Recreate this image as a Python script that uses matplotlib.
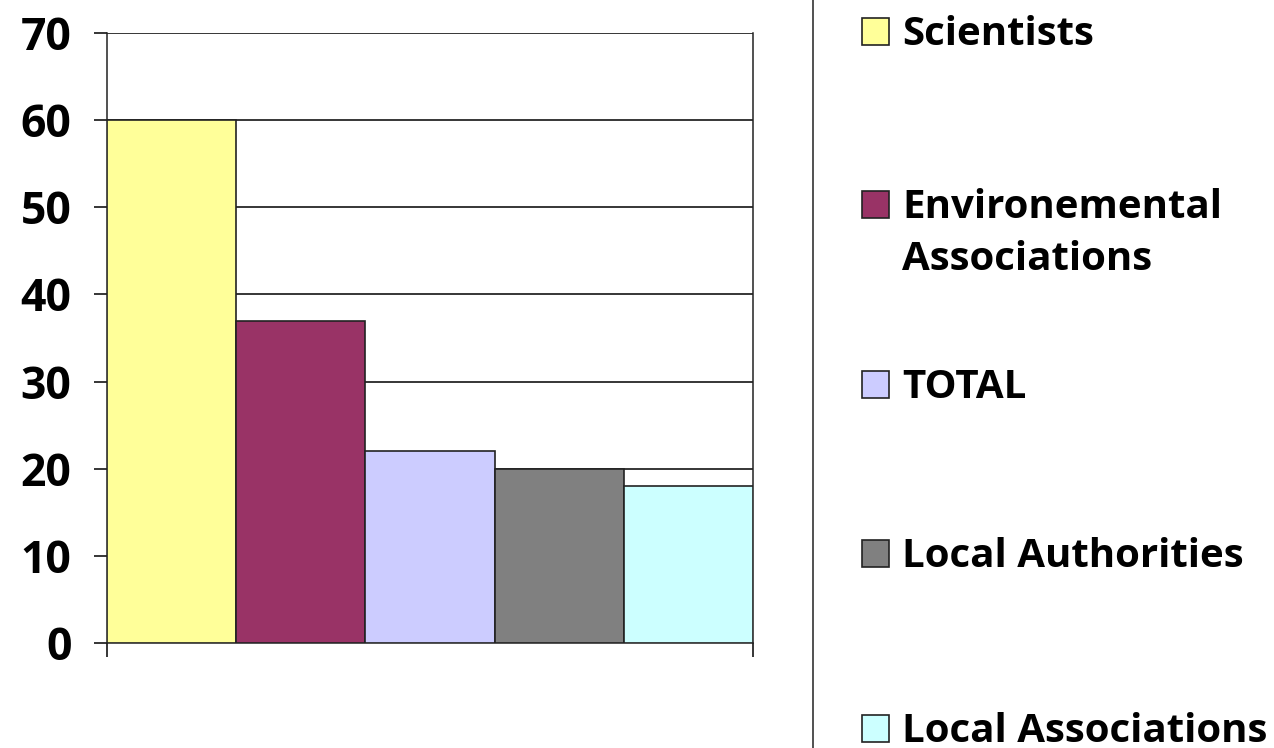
import matplotlib
matplotlib.use('agg')
import matplotlib.pyplot as plt
from matplotlib.patches import Rectangle
from matplotlib.lines import Line2D

categories = ['Scientists', 'Environemental\nAssociations', 'TOTAL',
              'Local Authorities', 'Local Associations']
values = [60, 37, 22, 20, 18]
colors = ['#FFFF99', '#993366', '#CCCCFF', '#808080', '#CCFFFF']
yticks = [0, 10, 20, 30, 40, 50, 60, 70]

plt.rcParams['font.family'] = ['Open Sans', 'DejaVu Sans']
plt.rcParams['font.weight'] = 'bold'

W, H = 1274, 748
fig = plt.figure(figsize=(W / 100, H / 100), dpi=100)
ax = fig.add_axes([107 / W, 1 - 643 / H, (753 - 107) / W, (643 - 33) / H])

x = list(range(len(values)))
ax.bar(x, values, width=1.0, color=colors, edgecolor='#222222', linewidth=1.2, zorder=3)

ax.set_xlim(-0.5, len(values) - 0.5)
ax.set_ylim(0, 70)
ax.set_yticks(yticks)
ax.set_yticklabels([str(t) for t in yticks], fontsize=32, fontweight='bold')
ax.set_xticks([-0.5, len(values) - 0.5])
ax.set_xticklabels([])
ax.tick_params(axis='y', direction='out', length=9.5, width=1.1, pad=16)
ax.tick_params(axis='x', direction='out', length=10, width=1.1)
ax.yaxis.grid(True, color='black', linewidth=1.1, zorder=0)
for s in ax.spines.values():
    s.set_linewidth(1.1)
    s.set_color('#222222')
ax.spines['top'].set_visible(False)

# separator line
fig.add_artist(Line2D([813 / W, 813 / W], [0, 1], color='#333333', linewidth=1.2))

# legend drawn by hand
baselines = [45, 218, 398, 567, 742]
sq = 27
for lab, col, b in zip(categories, colors, baselines):
    fig.add_artist(Rectangle((862 / W, 1 - b / H), sq / W, sq / H,
                             facecolor=col, edgecolor='#222222', linewidth=1.2))
    for k, line in enumerate(lab.split('\n')):
        fig.text(902 / W, 1 - (b + 52 * k) / H, line, fontsize=29, fontweight='bold',
                 va='baseline', ha='left')

fig.savefig('out.png', dpi=100)
